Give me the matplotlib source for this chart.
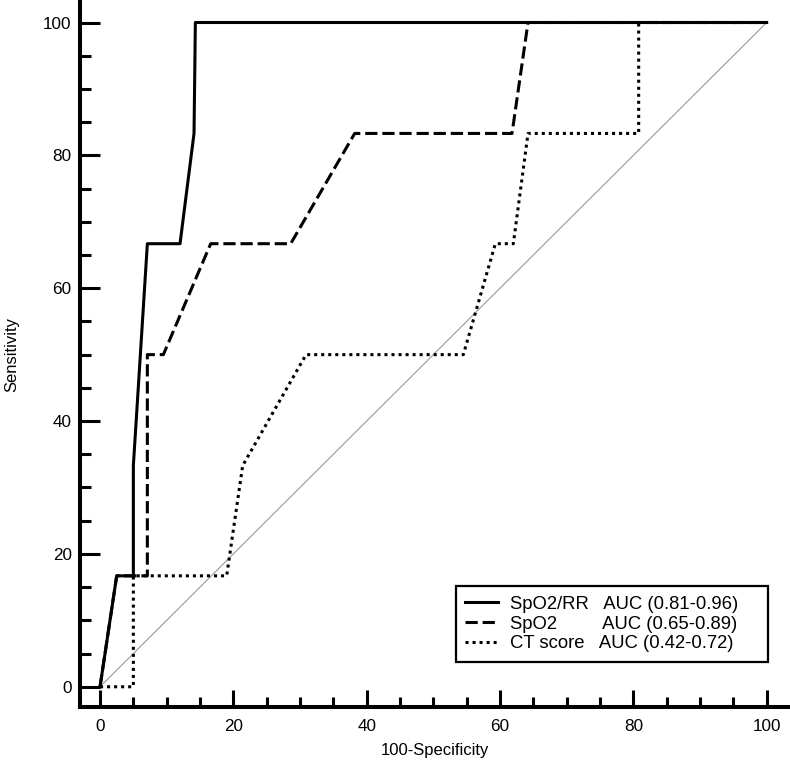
import matplotlib
matplotlib.use("Agg")
import matplotlib.pyplot as plt

plt.rcParams['font.family'] = ['Liberation Sans', 'DejaVu Sans']

# === ROC data (100-Specificity, Sensitivity) ===
spo2_rr_x = [0, 2.5, 5, 5, 7.1, 12, 14.1, 14.3, 100]
spo2_rr_y = [0, 16.7, 16.7, 33.3, 66.7, 66.7, 83.3, 100, 100]

spo2_x = [0, 2.5, 7.1, 7.1, 9.5, 16.6, 28.6, 38.2, 61.8, 64.2, 100]
spo2_y = [0, 16.7, 16.7, 50, 50, 66.7, 66.7, 83.3, 83.3, 100, 100]

ct_x = [0, 5, 5, 19, 21.4, 30.9, 54.5, 59.3, 62, 64.2, 80.8, 80.8, 100]
ct_y = [0, 0, 16.7, 16.7, 33.3, 50, 50, 66.7, 66.7, 83.3, 83.3, 100, 100]

labels = ["SpO2/RR   AUC (0.81-0.96)    ",
          "SpO2         AUC (0.65-0.89)",
          "CT score   AUC (0.42-0.72)"]

fig = plt.figure(figsize=(7.9, 7.64), dpi=100)
ax = fig.add_axes([0.1013, 0.075, 0.8987, 0.9225])

ax.plot([0, 100], [0, 100], color='#999999', lw=0.8)
ax.plot(spo2_rr_x, spo2_rr_y, color='black', lw=2.2, label=labels[0])
ax.plot(spo2_x, spo2_y, color='black', lw=2.2, dashes=(4, 1.6), label=labels[1])
ax.plot(ct_x, ct_y, color='black', lw=2.2, dashes=(1, 1.3), dash_capstyle='butt', label=labels[2])

ax.set_xlim(-3, 103.5)
ax.set_ylim(-3, 103.1)

for s in ['top', 'right']:
    ax.spines[s].set_visible(False)
for s in ['left', 'bottom']:
    ax.spines[s].set_linewidth(2.9)

ax.set_xticks(range(0, 101, 20))
ax.set_yticks(range(0, 101, 20))
ax.set_xticks([t for t in range(0, 101, 5) if t % 20], minor=True)
ax.set_yticks([t for t in range(0, 101, 5) if t % 20], minor=True)

ax.tick_params(axis='x', which='major', direction='in', length=12, width=2.2, pad=9, labelsize=12.3)
ax.tick_params(axis='x', which='minor', direction='in', length=7.2, width=2.2)
ax.tick_params(axis='y', which='major', direction='in', length=14.4, width=2.2, pad=6, labelsize=12.3)
ax.tick_params(axis='y', which='minor', direction='in', length=7.7, width=2.2)

ax.set_xlabel("100-Specificity", fontsize=12, labelpad=6)
ax.set_ylabel("Sensitivity", fontsize=12, labelpad=17)

leg = ax.legend(loc='lower right', bbox_to_anchor=(0.9686, 0.0638), borderaxespad=0,
                fontsize=13.3, handlelength=1.75, handletextpad=0.65, borderpad=0.5,
                labelspacing=0.16, fancybox=False, edgecolor='black', framealpha=1)
leg.get_frame().set_linewidth(1.6)

plt.savefig("out.png", dpi=100)
